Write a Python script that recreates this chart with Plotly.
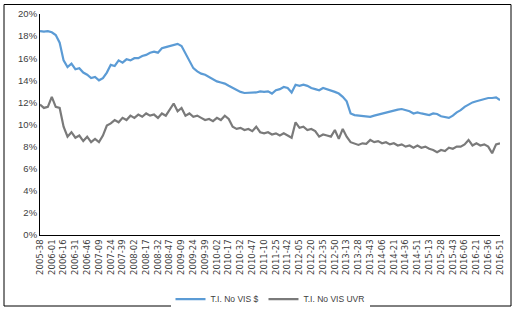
import plotly.graph_objects as go

# Week tick labels (every 15 weeks)
tick_labels = ["2005-38", "2006-01", "2006-16", "2006-31", "2006-46", "2007-09", "2007-24", "2007-39",
               "2008-02", "2008-17", "2008-32", "2008-47", "2009-09", "2009-24", "2009-39", "2010-02",
               "2010-17", "2010-32", "2010-47", "2011-10", "2011-25", "2011-42", "2012-05", "2012-20",
               "2012-35", "2012-50", "2013-13", "2013-28", "2013-43", "2014-06", "2014-21", "2014-36",
               "2014-51", "2015-13", "2015-28", "2015-43", "2016-06", "2016-21", "2016-36", "2016-51"]

# Series values (%), sampled every 5 weeks from 2005-38 to 2016-51
ti_usd = [18.45, 18.4, 18.45, 18.35, 18.1, 17.4, 15.8, 15.2, 15.5, 15.0,
          15.1, 14.7, 14.5, 14.2, 14.3, 14.0, 14.2, 14.7, 15.4, 15.3,
          15.8, 15.6, 15.9, 15.8, 16.0, 16.0, 16.2, 16.3, 16.5, 16.6,
          16.5, 16.9, 17.0, 17.1, 17.2, 17.3, 17.1, 16.4, 15.8, 15.1,
          14.8, 14.6, 14.5, 14.3, 14.1, 13.9, 13.8, 13.7, 13.5, 13.3,
          13.1, 12.95, 12.85, 12.85, 12.9, 12.9, 13.0, 12.95, 13.0, 12.8,
          13.1, 13.2, 13.4, 13.3, 12.9, 13.6, 13.5, 13.6, 13.5, 13.3,
          13.2, 13.1, 13.3, 13.2, 13.1, 12.95, 12.8, 12.5, 12.1, 11.0,
          10.85, 10.8, 10.8, 10.75, 10.7, 10.8, 10.9, 11.0, 11.1, 11.2,
          11.3, 11.35, 11.4, 11.3, 11.2, 11.0, 11.1, 11.0, 10.9, 10.85,
          11.0, 10.95, 10.75, 10.7, 10.6, 10.8, 11.1, 11.3, 11.6, 11.8,
          12.0, 12.1, 12.2, 12.35, 12.4, 12.4, 12.45, 12.2]

ti_uvr = [11.8, 11.5, 11.6, 12.5, 11.6, 11.5, 9.8, 8.9, 9.3, 8.8,
          9.0, 8.5, 8.9, 8.4, 8.7, 8.4, 9.0, 9.9, 10.1, 10.4,
          10.2, 10.6, 10.4, 10.8, 10.6, 10.9, 10.7, 11.0, 10.8, 10.9,
          10.6, 11.0, 10.8, 11.3, 11.9, 11.2, 11.5, 10.8, 11.0, 10.7,
          10.8, 10.6, 10.4, 10.5, 10.3, 10.6, 10.4, 10.8, 10.5, 9.8,
          9.6, 9.7, 9.5, 9.6, 9.4, 9.8, 9.3, 9.2, 9.3, 9.1,
          9.2, 9.0, 9.2, 9.0, 8.8, 10.2, 9.7, 9.8, 9.5, 9.6,
          9.4, 8.9, 9.1, 9.0, 8.9, 9.5, 8.7, 9.6, 8.9, 8.4,
          8.3, 8.15, 8.3, 8.25, 8.6, 8.4, 8.5, 8.3, 8.4, 8.2,
          8.3, 8.1, 8.2, 8.0, 8.1, 7.9, 8.1, 7.9, 8.0, 7.8,
          7.7, 7.5, 7.7, 7.6, 7.9, 7.8, 8.0, 8.0, 8.2, 8.6,
          8.1, 8.3, 8.1, 8.2, 8.0, 7.4, 8.2, 8.3]

series_names = ["T.I. No VIS $", "T.I. No VIS UVR"]

step = 5
weeks = [i * step for i in range(len(ti_usd))]
tick_pos = [i * 15 for i in range(len(tick_labels))]

fig = go.Figure()
fig.add_trace(go.Scatter(x=weeks, y=[v / 100 for v in ti_usd], mode="lines",
                         name=series_names[0], line=dict(color="#5B9BD5", width=2.2)))
fig.add_trace(go.Scatter(x=weeks, y=[v / 100 for v in ti_uvr], mode="lines",
                         name=series_names[1], line=dict(color="#7A7A7A", width=2.2)))

fig.update_layout(
    width=515, height=311,
    margin=dict(l=40, r=15, t=14, b=76, autoexpand=False),
    paper_bgcolor="white", plot_bgcolor="white",
    font=dict(family="Liberation Sans", size=9, color="#404040"),
    showlegend=True,
    legend=dict(orientation="h", x=0.5, xanchor="center", y=-0.29, yanchor="middle",
                font=dict(size=8.5, color="#404040"), itemwidth=30, tracegroupgap=0),
    xaxis=dict(range=[0, tick_pos[-1]], tickmode="array", tickvals=tick_pos, ticktext=tick_labels,
               tickangle=-90, showgrid=False, zeroline=False, showline=True, linecolor="black",
               linewidth=1, ticks="", automargin=False,
               tickfont=dict(family="DejaVu Sans", size=8.5, color="#404040")),
    yaxis=dict(range=[0, 0.20], dtick=0.02, tickformat=".0%", showgrid=False, zeroline=False,
               showline=True, linecolor="black", linewidth=1, ticks="", automargin=False,
               tickfont=dict(family="Liberation Sans", size=9.5, color="#404040")),
    shapes=[dict(type="rect", xref="paper", yref="paper",
                 x0=-36 / 460, x1=471 / 460, y0=-71 / 221, y1=1 + 9.5 / 221,
                 line=dict(color="black", width=1))],
)

fig.write_html("out.html", config={"displayModeBar": False},
               post_script="document.body.style.margin='0';document.body.style.overflow='hidden';")
